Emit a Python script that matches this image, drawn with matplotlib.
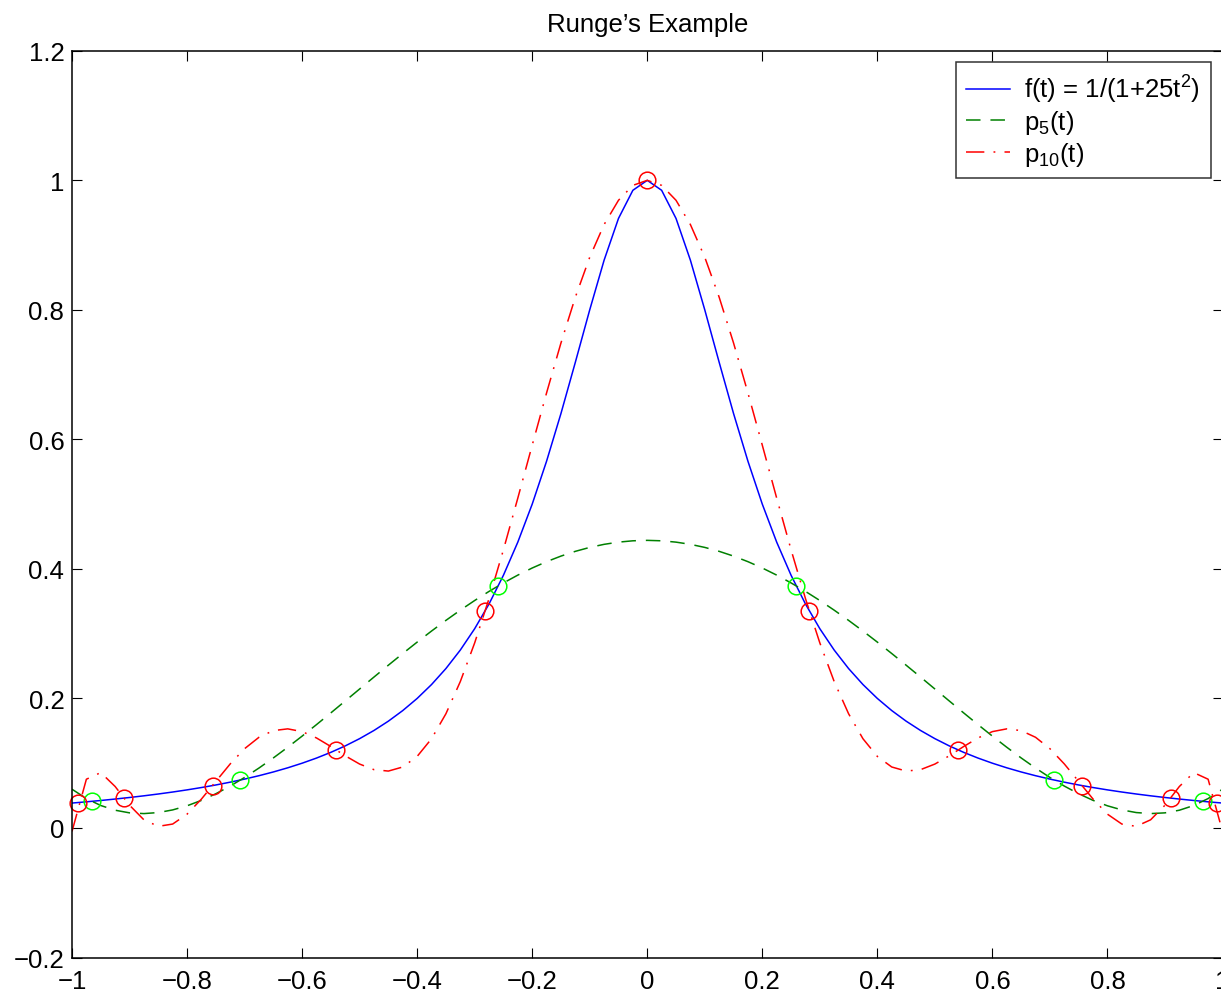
import numpy as np
import matplotlib
matplotlib.use("Agg")
import matplotlib.pyplot as plt

plt.rcParams['font.family'] = ['Liberation Sans', 'DejaVu Sans']
plt.rcParams['mathtext.fontset'] = 'custom'
plt.rcParams['mathtext.rm'] = 'Liberation Sans'
plt.rcParams['mathtext.it'] = 'Liberation Sans'
plt.rcParams['mathtext.bf'] = 'Liberation Sans'

# sample points on the right half, t = 0 ... 1 (curves are even in t)
t_half = [0.0, 0.025, 0.05, 0.075, 0.1, 0.125, 0.15, 0.175, 0.2, 0.225,
          0.25, 0.275, 0.3, 0.325, 0.35, 0.375, 0.4, 0.425, 0.45, 0.475,
          0.5, 0.525, 0.55, 0.575, 0.6, 0.625, 0.65, 0.675, 0.7, 0.725,
          0.75, 0.775, 0.8, 0.825, 0.85, 0.875, 0.9, 0.925, 0.95, 0.975,
          1.0]

# f(t) = 1/(1+25t^2)
f_half = [1.0, 0.984615, 0.941176, 0.876712, 0.8, 0.719101, 0.64,
          0.566372, 0.5, 0.441379, 0.390244, 0.345946, 0.307692, 0.274678,
          0.246154, 0.221453, 0.2, 0.181303, 0.164948, 0.150588, 0.137931,
          0.126733, 0.116788, 0.107926, 0.1, 0.092888, 0.086486, 0.080706,
          0.075472, 0.070718, 0.066390, 0.062439, 0.058824, 0.055507,
          0.052459, 0.049651, 0.047059, 0.044662, 0.042440, 0.040379,
          0.038462]

# p5(t)
p5_half = [0.444089, 0.443404, 0.441354, 0.437948, 0.433202, 0.427141,
           0.419793, 0.411197, 0.401395, 0.390437, 0.378380, 0.365288,
           0.351229, 0.336283, 0.320530, 0.304061, 0.286975, 0.269373,
           0.251365, 0.233070, 0.214609, 0.196112, 0.177718, 0.159567,
           0.141815, 0.124614, 0.108129, 0.092526, 0.077988, 0.064695,
           0.052837, 0.042614, 0.034226, 0.027885, 0.023806, 0.022215,
           0.023339, 0.027418, 0.034694, 0.045417, 0.059843]

# p10(t)
p10_half = [1.0, 0.992226, 0.969191, 0.931740, 0.881247, 0.819554,
            0.748897, 0.671814, 0.591036, 0.509374, 0.429592, 0.354291,
            0.285783, 0.225995, 0.176364, 0.137769, 0.110487, 0.094170,
            0.087857, 0.090027, 0.098675, 0.111415, 0.125752, 0.139004,
            0.148783, 0.153038, 0.150333, 0.140024, 0.122415, 0.098878,
            0.071828, 0.044628, 0.021312, 0.006061, 0.002500, 0.012584,
            0.035156, 0.064023, 0.085499, 0.075276, -0.005380]

# interpolation nodes
nodes5_x = [-0.965926, -0.707107, -0.258819, 0.258819, 0.707107, 0.965926]
nodes5_y = [0.041110, 0.074074, 0.373876, 0.373876, 0.074074, 0.041110]
nodes10_x = [-0.989821, -0.909632, -0.755750, -0.540641, -0.281733, 0.0,
             0.281733, 0.540641, 0.755750, 0.909632, 0.989821]
nodes10_y = [0.039225, 0.046113, 0.065450, 0.120376, 0.335084, 1.0,
             0.335084, 0.120376, 0.065450, 0.046113, 0.039225]

xticks = [-1, -0.8, -0.6, -0.4, -0.2, 0, 0.2, 0.4, 0.6, 0.8, 1]
xtick_labels = ['\u22121', '\u22120.8', '\u22120.6', '\u22120.4', '\u22120.2',
                '0', '0.2', '0.4', '0.6', '0.8', '1']
yticks = [-0.2, 0, 0.2, 0.4, 0.6, 0.8, 1, 1.2]
ytick_labels = ['\u22120.2', '0', '0.2', '0.4', '0.6', '0.8', '1', '1.2']


def mirror(vals, odd=False):
    # left half is the mirror image of the right half
    vals = np.asarray(vals, dtype=float)
    left = -vals[:0:-1] if odd else vals[:0:-1]
    return np.concatenate([left, vals])


t = mirror(t_half, odd=True)
f_vals = mirror(f_half)
p5_vals = mirror(p5_half)
p10_vals = mirror(p10_half)

FS = 18.5
W, H = 1221, 995
fig = plt.figure(figsize=(W / 100, H / 100), dpi=100)
ax = fig.add_axes([72 / W, 1 - 958.5 / H, (1222.5 - 72) / W, (958.5 - 51.8) / H])

ax.plot(t, f_vals, color='#0000ff', lw=1.1, label='f(t) = 1/(1+25t$^2$)')
ax.plot(t, p5_vals, color='#008000', lw=1.1, dashes=(9.5, 6.5), label='p$_5$(t)')
ax.plot(t, p10_vals, color='#ff0000', lw=1.1, dashes=(12, 6, 1.2, 6),
        label='p$_{10}$(t)')

ax.plot(nodes5_x, nodes5_y, 'o', ms=12, mfc='none', mec='#00ff00', mew=1.1,
        clip_on=False)
ax.plot(nodes10_x, nodes10_y, 'o', ms=12, mfc='none', mec='#ff0000', mew=1.1,
        clip_on=False)

ax.set_xlim(-1, 1)
ax.set_ylim(-0.2, 1.2)
ax.set_xticks(xticks)
ax.set_xticklabels(xtick_labels)
ax.set_yticks(yticks)
ax.set_yticklabels(ytick_labels)
ax.tick_params(direction='in', length=7, width=0.8, labelsize=FS,
               top=True, right=True)
ax.tick_params(axis='x', pad=8.5)
ax.tick_params(axis='y', pad=5.5)
for s in ax.spines.values():
    s.set_linewidth(1.1)

ax.set_title('Runge\u2019s Example', fontsize=FS, pad=14)

leg = ax.legend(loc='upper right', fontsize=FS, frameon=True, fancybox=False,
                borderaxespad=0.45, borderpad=0.42, handlelength=1.7,
                handletextpad=0.55, labelspacing=0.12)
leg.get_frame().set_edgecolor('black')
leg.get_frame().set_linewidth(1.1)

fig.savefig('out.png', dpi=100)
